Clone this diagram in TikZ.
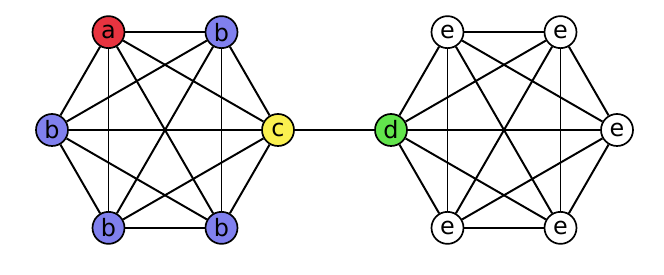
\documentclass[tikz,border=0pt]{standalone}
\usepackage{fontspec}
\setmainfont{DejaVu Sans}
\usetikzlibrary{calc}
\definecolor{redv}{RGB}{232,52,64}
\definecolor{bluev}{RGB}{128,128,238}
\definecolor{yellowv}{RGB}{250,240,80}
\definecolor{greenv}{RGB}{98,228,76}
\begin{document}
\begin{tikzpicture}[
      edge_style/.style={draw, black, line width=1.4pt},
      vertex_style/.style={draw, black, circle, line width=1.2pt, minimum size=0.8cm,
        inner sep=0pt, font=\fontsize{17}{17}\selectfont}
  ]
      \useasboundingbox (0,0) rectangle (16.6,6.875);

      % left hexagon
      \node[vertex_style, fill=redv]    (l1) at ($(4.125,3.625)+(120:2.825)$) {a};
      \node[vertex_style, fill=bluev]   (l2) at ($(4.125,3.625)+(60:2.825)$) {b};
      \node[vertex_style, fill=yellowv] (l3) at ($(4.125,3.625)+(0:2.825)$) {c};
      \node[vertex_style, fill=bluev]   (l4) at ($(4.125,3.625)+(300:2.825)$) {b};
      \node[vertex_style, fill=bluev]   (l5) at ($(4.125,3.625)+(240:2.825)$) {b};
      \node[vertex_style, fill=bluev]   (l6) at ($(4.125,3.625)+(180:2.825)$) {b};

      % right hexagon
      \node[vertex_style, fill=greenv]  (r1) at ($(12.6,3.625)+(180:2.825)$) {d};
      \node[vertex_style, fill=white]   (r2) at ($(12.6,3.625)+(120:2.825)$) {e};
      \node[vertex_style, fill=white]   (r3) at ($(12.6,3.625)+(60:2.825)$) {e};
      \node[vertex_style, fill=white]   (r4) at ($(12.6,3.625)+(0:2.825)$) {e};
      \node[vertex_style, fill=white]   (r5) at ($(12.6,3.625)+(300:2.825)$) {e};
      \node[vertex_style, fill=white]   (r6) at ($(12.6,3.625)+(240:2.825)$) {e};

      \foreach \i in {1,...,5} {
        \pgfmathtruncatemacro{\first}{\i+1}
        \foreach \j in {\first,...,6} {
          \draw[edge_style] (l\i) -- (l\j);
          \draw[edge_style] (r\i) -- (r\j);
        }
      }
      \draw[edge_style] (l3) -- (r1);
  \end{tikzpicture}
\end{document}
